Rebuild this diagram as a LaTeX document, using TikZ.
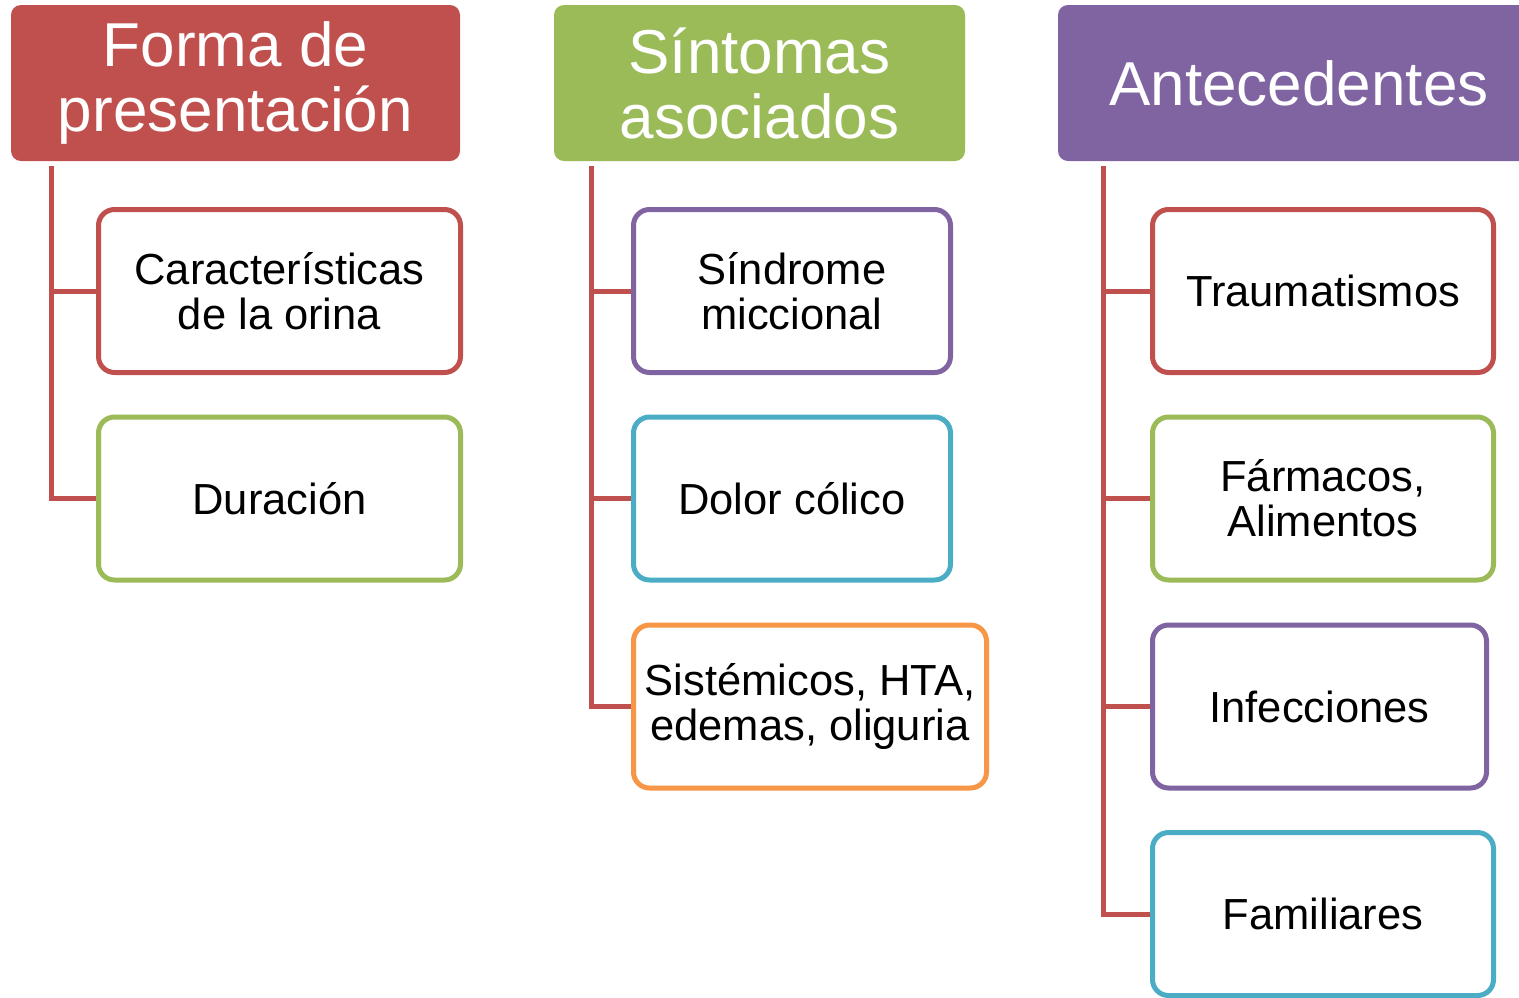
\documentclass[tikz,border=0pt]{standalone}
\usepackage{fontspec}
\setmainfont{Liberation Sans}
\definecolor{cred}{HTML}{C0504D}
\definecolor{cgreen}{HTML}{9BBB59}
\definecolor{cpurple}{HTML}{8064A2}
\definecolor{cblue}{HTML}{4BACC6}
\definecolor{corange}{HTML}{F79646}
\tikzset{
  header/.style={fill=#1, text=white, rounded corners=10pt, inner sep=0pt,
    minimum height=156pt, align=center, font=\fontsize{62}{65}\selectfont},
  itembox/.style={draw=#1, line width=5pt, fill=white, rounded corners=16pt, inner sep=0pt,
    minimum height=163pt, minimum width=320pt, align=center, font=\fontsize{43.5}{45}\selectfont},
  conn/.style={draw=cred, line width=5pt, line join=miter}
}
\begin{document}
\begin{tikzpicture}[x=1pt,y=-1pt]
\useasboundingbox (0,0) rectangle (1519,997);
\clip (0,0) rectangle (1519,997);
% headers
\node[header=cred, minimum width=449pt] (h1) at (235.5,83) {Forma de\\presentación};
\node[header=cgreen, minimum width=411pt] (h2) at (759.5,83) {Síntomas\\asociados};
\node[header=cpurple, minimum width=482pt] (h3) at (1299,83) {Antecedentes};
% spine tops
\coordinate (t1) at (51,166);
\coordinate (t2) at (591,166);
\coordinate (t3) at (1103,166);
% column 1
\node[itembox=cred, minimum width=362pt] (a1) at (279.5,291) {Características\\de la orina};
\node[itembox=cgreen, minimum width=362pt] (a2) at (279.5,498.5) {Duración};
% column 2
\node[itembox=cpurple, minimum width=317pt] (b1) at (792,291) {Síndrome\\miccional};
\node[itembox=cblue, minimum width=317pt] (b2) at (792,498.5) {Dolor cólico};
\node[itembox=corange, minimum width=353pt] (b3) at (810,706.5) {Sistémicos, HTA,\\edemas, oliguria};
% column 3
\node[itembox=cred, minimum width=341pt] (c1) at (1323,291) {Traumatismos};
\node[itembox=cgreen, minimum width=341pt] (c2) at (1323,498.5) {Fármacos,\\Alimentos};
\node[itembox=cpurple, minimum width=334pt] (c3) at (1319.5,706.5) {Infecciones};
\node[itembox=cblue, minimum width=341pt] (c4) at (1323,914) {Familiares};
% connectors
\draw[conn] (t1) |- (a1.west);
\draw[conn] (t1) |- (a2.west);
\draw[conn] (t2) |- (b1.west);
\draw[conn] (t2) |- (b2.west);
\draw[conn] (t2) |- (b3.west);
\draw[conn] (t3) |- (c1.west);
\draw[conn] (t3) |- (c2.west);
\draw[conn] (t3) |- (c3.west);
\draw[conn] (t3) |- (c4.west);
\end{tikzpicture}
\end{document}
